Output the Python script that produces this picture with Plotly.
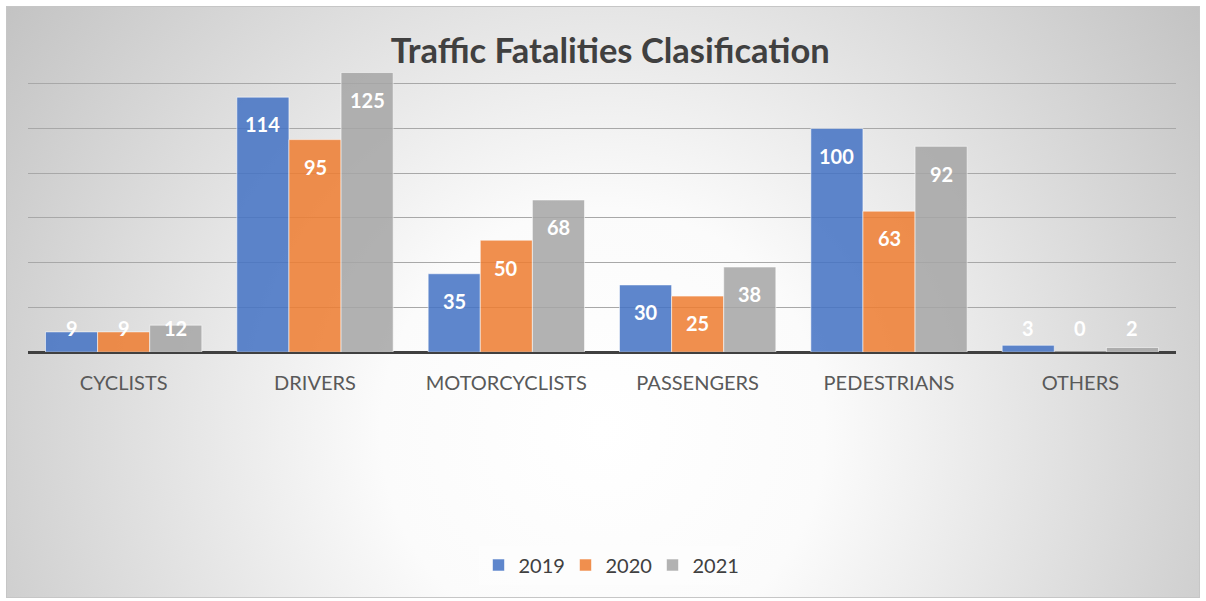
import base64
import plotly.graph_objects as go

categories = ["CYCLISTS", "DRIVERS", "MOTORCYCLISTS", "PASSENGERS", "PEDESTRIANS", "OTHERS"]
years = ["2019", "2020", "2021"]
values_2019 = [9, 114, 35, 30, 100, 3]
values_2020 = [9, 95, 50, 25, 63, 0]
values_2021 = [12, 125, 68, 38, 92, 2]
series = [values_2019, values_2020, values_2021]
colors = ["rgba(68,114,196,0.86)", "rgba(237,125,49,0.86)", "rgba(165,165,165,0.86)"]
title_text = "Traffic Fatalities Clasification"

W, H = 1206, 601
ML, MR, MT, MB = 28, 30, 39, 249
FONT = "Lato"

fig = go.Figure()
for name, vals, col in zip(years, series, colors):
    fig.add_trace(go.Bar(
        x=categories, y=vals, name=name,
        marker=dict(color=col, line=dict(color="rgba(255,255,255,0.55)", width=1)),
        hoverinfo="x+y+name",
    ))

# data labels (inside end, Excel style)
plot_w = W - ML - MR
cat_w = plot_w / len(categories)
bargap = 0.183
slot = cat_w * (1 - bargap) / len(years)
LABEL_MIN = 23
for i, vals in enumerate(series):
    for c, v in zip(categories, vals):
        fig.add_annotation(
            x=c, y=max(v, LABEL_MIN), xref="x", yref="y",
            text=str(v), showarrow=False,
            xshift=(i - 1) * slot, yshift=-27.3, yanchor="middle",
            font=dict(family=FONT, size=20, color="white", weight="bold"),
        )

# background: radial gradient with border
svg = f'''<svg xmlns="http://www.w3.org/2000/svg" width="{W}" height="{H}" viewBox="0 0 {W} {H}" preserveAspectRatio="none">
<defs><radialGradient id="g" gradientUnits="userSpaceOnUse" cx="603" cy="430" r="740">
<stop offset="0" stop-color="#ffffff"/><stop offset="0.3" stop-color="#fbfbfb"/><stop offset="1" stop-color="#c2c2c2"/>
</radialGradient></defs>
<rect x="0" y="0" width="{W}" height="{H}" fill="#ffffff"/>
<rect x="6.5" y="6.5" width="1193" height="591" fill="url(#g)" stroke="#c6c6c6" stroke-width="1"/>
</svg>'''
src = "data:image/svg+xml;base64," + base64.b64encode(svg.encode()).decode()
plot_h = H - MT - MB
fig.add_layout_image(
    source=src, xref="paper", yref="paper",
    x=-ML / plot_w, y=1 + MT / plot_h, sizex=W / plot_w, sizey=H / plot_h,
    xanchor="left", yanchor="top", sizing="stretch", layer="below",
)

fig.update_layout(
    width=W, height=H,
    margin=dict(l=ML, r=MR, t=MT, b=MB, pad=0),
    paper_bgcolor="white", plot_bgcolor="rgba(0,0,0,0)",
    barmode="group", bargap=bargap, bargroupgap=0,
    title=dict(text=title_text, x=0.506, xanchor="center", y=1 - 51 / H, yanchor="middle",
               xref="container", yref="container",
               font=dict(family=FONT, size=34.5, color="#404040", weight="bold")),
    legend=dict(orientation="h", x=0.5 + 7 / plot_w, xanchor="center", y=(-(565 - (H - MB)) / plot_h), yanchor="middle",
                font=dict(family=FONT, size=20, color="#404040"), bgcolor="rgba(255,255,255,0.25)",
                itemwidth=30, entrywidth=42, entrywidthmode="pixels", traceorder="normal"),
    showlegend=True,
)
fig.update_xaxes(
    showgrid=False, showline=False, zeroline=False,
    ticks="outside", ticklen=13, tickcolor="rgba(0,0,0,0)",
    tickfont=dict(family=FONT, size=20, color="#595959"),
)
fig.update_yaxes(
    range=[0, 140], dtick=20, showticklabels=False,
    showgrid=True, gridcolor="#a8a8a8", gridwidth=1.4,
    zeroline=True, zerolinecolor="#404040", zerolinewidth=3,
    showline=False,
)

fig.write_html("out.html", config={"displayModeBar": False},
               post_script="document.body.style.margin='0';document.body.style.overflow='hidden';")
